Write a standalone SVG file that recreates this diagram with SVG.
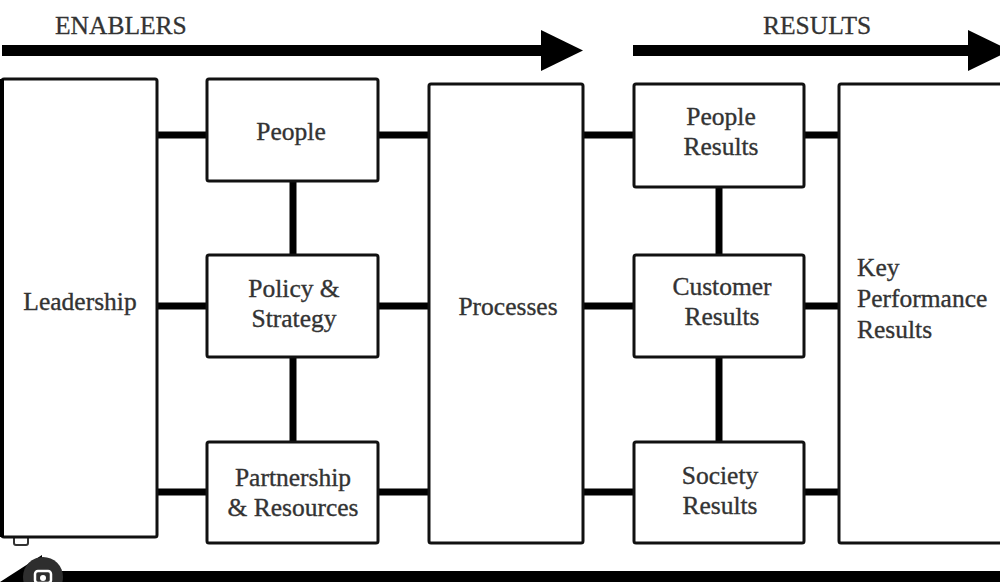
<svg xmlns="http://www.w3.org/2000/svg" width="1000" height="582" viewBox="0 0 1000 582">
<style>
.box{fill:#fff;stroke:#111;stroke-width:3}
.lbl{font-family:"Liberation Serif","Times New Roman",serif;font-size:25.5px;fill:#333;stroke:#333;stroke-width:0.35;text-anchor:middle}
.lft{text-anchor:start}
.hdr{font-family:"Liberation Serif","Times New Roman",serif;font-size:25.5px;fill:#333;stroke:#333;stroke-width:0.3}
.con{stroke:#000;stroke-width:7;fill:none}
</style>
<rect width="1000" height="582" fill="#fff"/>
<g id="header-enablers">
<text class="hdr" x="55" y="34">ENABLERS</text>
<rect x="2" y="45" width="543" height="11" fill="#000"/>
<polygon points="541,30 583,50.5 541,71" fill="#000"/>
</g>
<g id="header-results">
<text class="hdr" x="763" y="34">RESULTS</text>
<rect x="633" y="45" width="340" height="11" fill="#000"/>
<polygon points="968,30 1010,50.5 968,71" fill="#000"/>
</g>
<g id="connectors">
<line class="con" x1="157" y1="135" x2="207" y2="135"/>
<line class="con" x1="157" y1="306" x2="207" y2="306"/>
<line class="con" x1="157" y1="492" x2="207" y2="492"/>
<line class="con" x1="378" y1="135" x2="429" y2="135"/>
<line class="con" x1="378" y1="306" x2="429" y2="306"/>
<line class="con" x1="378" y1="492" x2="429" y2="492"/>
<line class="con" x1="583" y1="135" x2="634" y2="135"/>
<line class="con" x1="583" y1="306" x2="634" y2="306"/>
<line class="con" x1="583" y1="492" x2="634" y2="492"/>
<line class="con" x1="804" y1="135" x2="839" y2="135"/>
<line class="con" x1="804" y1="306" x2="839" y2="306"/>
<line class="con" x1="804" y1="492" x2="839" y2="492"/>
<line class="con" x1="293" y1="181" x2="293" y2="255"/>
<line class="con" x1="293" y1="357" x2="293" y2="442"/>
<line class="con" x1="719" y1="187" x2="719" y2="255"/>
<line class="con" x1="719" y1="357" x2="719" y2="442"/>
</g>
<g id="leadership">
<rect x="14" y="535" width="14" height="10" rx="2" fill="#fff" stroke="#333" stroke-width="2"/>
<rect class="box" x="2" y="79" width="155" height="458" rx="2"/>
<rect x="0" y="79" width="4" height="458" fill="#000"/>
<text class="lbl" x="80" y="310">Leadership</text>
</g>
<g id="people">
<rect class="box" x="207" y="79" width="171" height="102" rx="2"/>
<text class="lbl" x="291" y="140">People</text>
</g>
<g id="policy-strategy">
<rect class="box" x="207" y="255" width="171" height="102" rx="2"/>
<text class="lbl" x="294" y="297">Policy &amp;</text>
<text class="lbl" x="294" y="327">Strategy</text>
</g>
<g id="partnership-resources">
<rect class="box" x="207" y="442" width="171" height="101" rx="2"/>
<text class="lbl" x="293" y="486">Partnership</text>
<text class="lbl" x="293" y="516">&amp; Resources</text>
</g>
<g id="processes">
<rect class="box" x="429" y="84" width="154" height="459" rx="2"/>
<text class="lbl" x="508" y="315">Processes</text>
</g>
<g id="people-results">
<rect class="box" x="634" y="84" width="170" height="103" rx="2"/>
<text class="lbl" x="721" y="125">People</text>
<text class="lbl" x="721" y="155">Results</text>
</g>
<g id="customer-results">
<rect class="box" x="634" y="255" width="170" height="102" rx="2"/>
<text class="lbl" x="722" y="295">Customer</text>
<text class="lbl" x="722" y="325">Results</text>
</g>
<g id="society-results">
<rect class="box" x="634" y="442" width="170" height="101" rx="2"/>
<text class="lbl" x="720" y="484">Society</text>
<text class="lbl" x="720" y="514">Results</text>
</g>
<g id="key-performance-results">
<rect class="box" x="839" y="84" width="170" height="459" rx="2"/>
<text class="lbl lft" x="857" y="276">Key</text>
<text class="lbl lft" x="857" y="307">Performance</text>
<text class="lbl lft" x="857" y="338">Results</text>
</g>
<g id="bottom-arrow">
<rect x="40" y="571" width="960" height="11" fill="#000"/>
<polygon points="0,582 42,555 42,582" fill="#000"/>
<circle cx="43" cy="577" r="20" fill="#2e2e2e"/>
<rect x="35" y="571" width="16" height="12" rx="3" fill="none" stroke="#fff" stroke-width="2.5"/>
<circle cx="43" cy="578" r="3" fill="#fff"/>
</g>
</svg>
